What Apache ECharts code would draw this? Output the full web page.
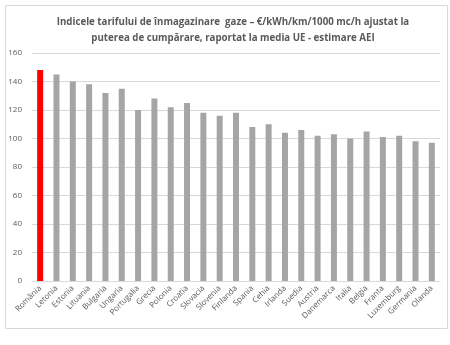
<!DOCTYPE html>
<html><head><meta charset="utf-8">
<script src="https://cdn.jsdelivr.net/npm/echarts@6/dist/echarts.min.js"></script>
<style>html,body{margin:0;padding:0;background:#fff}#c{width:450px;height:345px}</style>
</head><body><div id="c"></div>
<script>
const categories = ["România","Letonia","Estonia","Lituania","Bulgaria","Ungaria","Portugalia","Grecia","Polonia","Croatia","Slovacia","Slovenia","Finlanda","Spania","Cehia","Irlanda","Suedia","Austria","Danemarca","Italia","Belgia","Franta","Luxemburg","Germania","Olanda"];
const values = [148,145,140,138,132,135,120,128,122,125,118,116,118,108,110,104,106,102,103,100,105,101,102,98,97];
const yTicks = [0,20,40,60,80,100,120,140,160];
const highlightIndex = 0;

const chart = echarts.init(document.getElementById('c'), null, {renderer:'canvas'});
chart.setOption({
  animation:false,
  backgroundColor:'#fff',
  graphic:[{type:'rect',shape:{x:5.5,y:5.5,width:442,height:323},style:{fill:'none',stroke:'#d9d9d9',lineWidth:1},z:-1}],
  title:{
    text:'Indicele tarifului de înmagazinare  gaze – €/kWh/km/1000 mc/h ajustat la\nputerea de cumpărare, raportat la media UE - estimare AEI',
    left:228, top:9, textAlign:'center',
    textStyle:{fontFamily:'Open Sans',fontWeight:'bold',fontSize:9.7,color:'#595959',lineHeight:16}
  },
  grid:{left:32,right:10,top:53,bottom:64,containLabel:false},
  xAxis:{type:'category',data:categories,
    axisLine:{lineStyle:{color:'#d9d9d9'}},axisTick:{show:false},
    axisLabel:{rotate:45,fontSize:8,color:'#595959',fontFamily:'Open Sans',interval:0,margin:6}},
  yAxis:{type:'value',min:yTicks[0],max:yTicks[yTicks.length-1],interval:20,
    axisLine:{show:false},axisTick:{show:false},
    splitLine:{lineStyle:{color:'#d9d9d9'}},
    axisLabel:{fontSize:8,color:'#595959',fontFamily:'Open Sans',margin:10}},
  series:[{type:'bar',barWidth:6,
    data:values.map((v,i)=>({value:v,itemStyle:{color:i===highlightIndex?'#ff0000':'#a5a5a5'}}))}]
});
</script></body></html>
